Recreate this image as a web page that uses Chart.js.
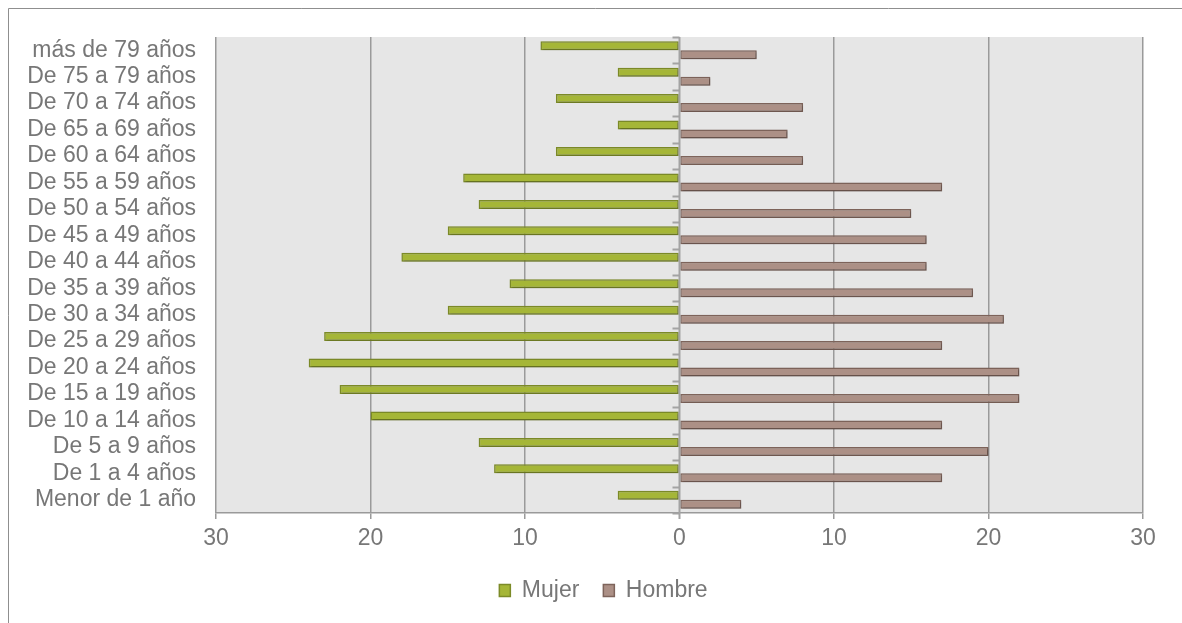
<!DOCTYPE html>
<html>
<head>
<meta charset="utf-8">
<script src="https://cdn.jsdelivr.net/npm/chart.js@4.4.1/dist/chart.umd.min.js"></script>
<style>
  html, body { margin: 0; padding: 0; background: #fff; }
  #wrap { width: 1182px; height: 623px; position: relative; }
</style>
</head>
<body>
<div id="wrap"><canvas id="myChart" width="1182" height="623"></canvas></div>
<script>
// age groups, top to bottom
var labels = ['más de 79 años', 'De 75 a 79 años', 'De 70 a 74 años', 'De 65 a 69 años',
  'De 60 a 64 años', 'De 55 a 59 años', 'De 50 a 54 años', 'De 45 a 49 años',
  'De 40 a 44 años', 'De 35 a 39 años', 'De 30 a 34 años', 'De 25 a 29 años',
  'De 20 a 24 años', 'De 15 a 19 años', 'De 10 a 14 años', 'De 5 a 9 años',
  'De 1 a 4 años', 'Menor de 1 año'];
var mujer = [9, 4, 8, 4, 8, 14, 13, 15, 18, 11, 15, 23, 24, 22, 20, 13, 12, 4];
var hombre = [5, 2, 8, 7, 8, 17, 15, 16, 16, 19, 21, 17, 22, 22, 17, 20, 17, 4];
var xTicks = [-30, -20, -10, 0, 10, 20, 30];

var FONT = '"Liberation Sans", Arial, sans-serif';
var TEXT = '#777777';
var GRID = '#9a9a9a';
var PAD_LEFT = 20;

// grey plot area, outer frame, zero axis, legend nudge
var backdrop = {
  id: 'backdrop',
  afterLayout: function (chart) {
    // the legend sits a little right of the canvas centre
    chart.legend.left += 22;
    chart.legend.right += 22;
  },
  beforeDraw: function (chart) {
    var ctx = chart.ctx, a = chart.chartArea;
    ctx.save();
    ctx.fillStyle = '#e6e6e6';
    ctx.fillRect(a.left, a.top, a.right - a.left, a.bottom - a.top);
    ctx.strokeStyle = '#8f8f8f';
    ctx.lineWidth = 1;
    ctx.beginPath();
    ctx.moveTo(8.5, chart.height);
    ctx.lineTo(8.5, 8.5);
    ctx.lineTo(chart.width, 8.5);
    ctx.stroke();
    ctx.restore();
  },
  beforeDatasetsDraw: function (chart) {
    var ctx = chart.ctx;
    ctx.save();
    ctx.shadowColor = 'rgba(0,0,0,0.25)';
    ctx.shadowOffsetX = 1;
    ctx.shadowOffsetY = 1;
    ctx.shadowBlur = 2;
  },
  afterDatasetsDraw: function (chart) {
    chart.ctx.restore();
    var ctx = chart.ctx, a = chart.chartArea;
    var x0 = chart.scales.x.getPixelForValue(0);
    var ys = chart.scales.y;
    var half = (ys.getPixelForValue(1) - ys.getPixelForValue(0)) / 2;
    ctx.save();
    ctx.strokeStyle = '#a3a3a3';
    ctx.lineWidth = 2;
    ctx.beginPath();
    ctx.moveTo(x0, a.top);
    ctx.lineTo(x0, a.bottom + 6);
    for (var i = 0; i <= labels.length; i++) {
      var y = Math.round(ys.getPixelForValue(i) - half) + 0.5;
      ctx.moveTo(x0, y);
      ctx.lineTo(x0 - 7, y);
    }
    ctx.stroke();
    ctx.restore();
  }
};

var ctx = document.getElementById('myChart');
var myChart = new Chart(ctx, {
  type: 'bar',
  data: {
    labels: labels,
    datasets: [{
      label: 'Mujer',
      data: mujer.map(function (v) { return -v; }),
      backgroundColor: '#a5b637',
      borderColor: '#7c8b28',
      borderWidth: 1.5,
      borderSkipped: false
    }, {
      label: 'Hombre',
      data: hombre,
      backgroundColor: '#ac9086',
      borderColor: '#7e645b',
      borderWidth: 1.5,
      borderSkipped: false
    }]
  },
  options: {
    indexAxis: 'y',
    responsive: false,
    animation: false,
    devicePixelRatio: 1,
    datasets: { bar: { barPercentage: 1, categoryPercentage: 0.68 } },
    layout: { padding: { left: PAD_LEFT, right: 39, top: 37, bottom: 11 } },
    plugins: {
      tooltip: { enabled: false },
      legend: {
        position: 'bottom',
        labels: {
          boxWidth: 11,
          boxHeight: 12,
          padding: 24,
          color: TEXT,
          font: { family: FONT, size: 23 }
        }
      }
    },
    scales: {
      x: {
        min: -30,
        max: 30,
        afterFit: function (s) { s.height = 42; },
        afterBuildTicks: function (s) { s.ticks = xTicks.map(function (v) { return { value: v }; }); },
        ticks: {
          color: TEXT,
          padding: 6,
          maxRotation: 0,
          font: { family: FONT, size: 23 },
          callback: function (v) { return Math.abs(v); }
        },
        grid: {
          color: function (c) { return c.tick && c.tick.value === 0 ? 'rgba(0,0,0,0)' : GRID; },
          lineWidth: 1.5,
          tickLength: 6
        },
        border: { color: GRID, width: 1.5 }
      },
      y: {
        afterFit: function (s) { s.width = 216 - PAD_LEFT; },
        ticks: {
          color: TEXT,
          padding: 20,
          autoSkip: false,
          font: { family: FONT, size: 23 }
        },
        grid: { display: false, drawTicks: false },
        border: { display: false }
      }
    }
  },
  plugins: [backdrop]
});
</script>
</body>
</html>
